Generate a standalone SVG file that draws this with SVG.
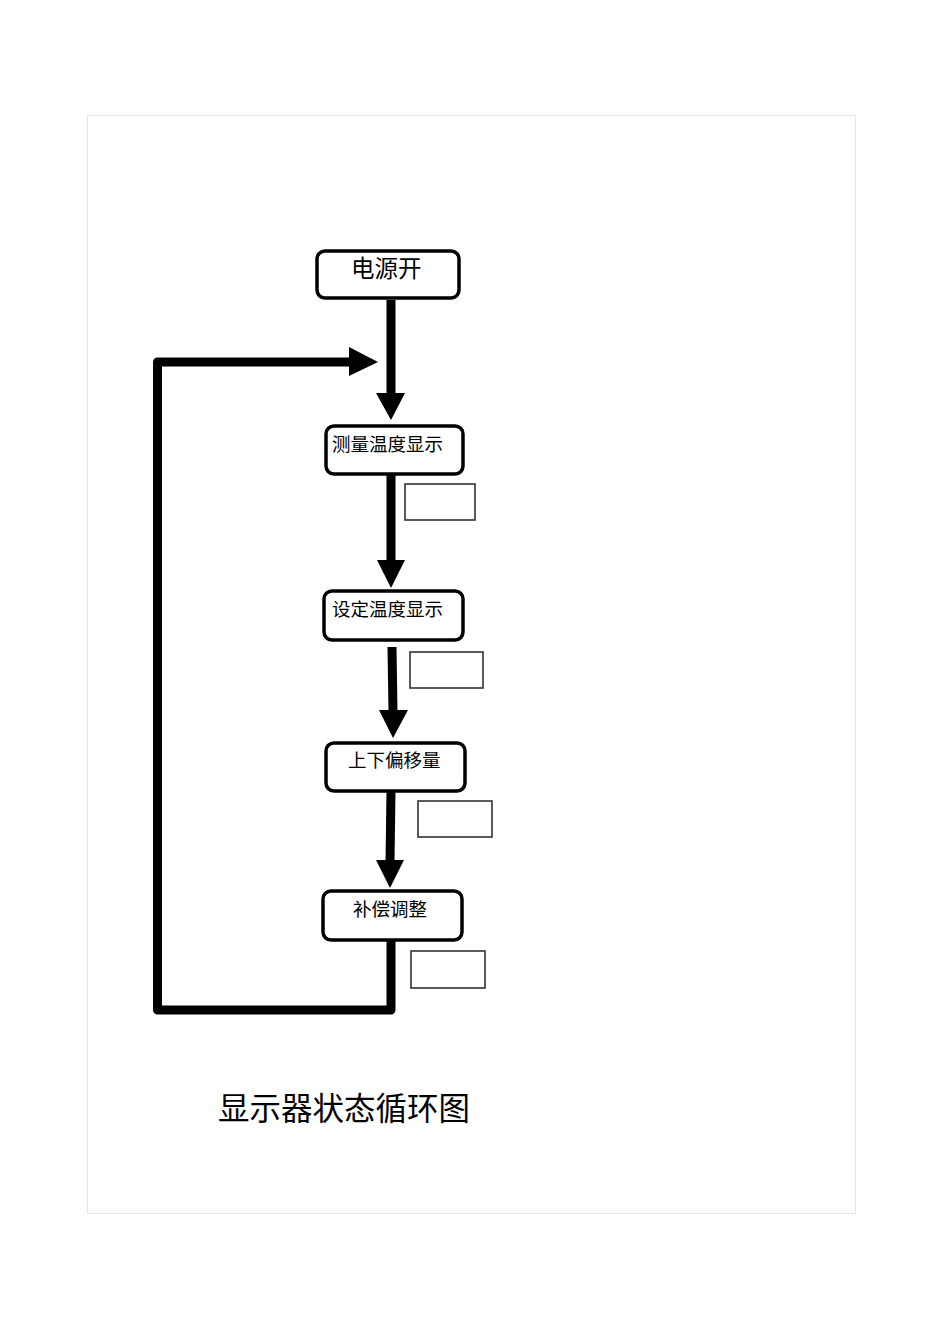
<svg xmlns="http://www.w3.org/2000/svg" width="950" height="1344" viewBox="0 0 950 1344">
<style>
.node{fill:#fff;stroke:#000;stroke-width:3.5}
.lbl{font-family:"Noto Sans CJK SC",sans-serif;font-size:18.5px;fill:#000}
.note{fill:#fff;stroke:#333;stroke-width:1.6}
.conn{fill:none;stroke:#000;stroke-width:9}
.head{fill:#000}
</style>
<rect x="87.5" y="115.5" width="768" height="1098" fill="#fff" stroke="#e6e6e6" stroke-width="1"/>
<g id="connectors">
<line class="conn" x1="391" y1="300" x2="391" y2="394"/>
<polygon class="head" points="376,393 405,393 391,420"/>
<line class="conn" x1="391" y1="474" x2="391" y2="562"/>
<polygon class="head" points="377,560 405,560 391,588"/>
<line class="conn" x1="392" y1="647" x2="393" y2="712"/>
<polygon class="head" points="379,710 408,710 393,738"/>
<line class="conn" x1="391" y1="791" x2="390" y2="862"/>
<polygon class="head" points="376,860 404,860 390,888"/>
<path class="conn" d="M391,940 V1010 H157.5 V362 H351" stroke-linejoin="round"/>
<polygon class="head" points="349,347 378,362 349,376"/>
</g>
<g id="n1"><rect class="node" x="317" y="251" width="142" height="47" rx="8"/><text class="lbl" x="351" y="277" style="font-size:23.5px">电源开</text></g>
<g id="n2"><rect class="node" x="326" y="426" width="137" height="48" rx="8"/><text class="lbl" x="332" y="451">测量温度显示</text></g>
<g id="n3"><rect class="node" x="324" y="591" width="139" height="49" rx="8"/><text class="lbl" x="332" y="616">设定温度显示</text></g>
<g id="n4"><rect class="node" x="326" y="743" width="139" height="48" rx="8"/><text class="lbl" x="348" y="767">上下偏移量</text></g>
<g id="n5"><rect class="node" x="323" y="891" width="139" height="49" rx="8"/><text class="lbl" x="353" y="916">补偿调整</text></g>
<g id="b1"><rect class="note" x="405" y="484" width="70" height="36"/></g>
<g id="b2"><rect class="note" x="410" y="652" width="73" height="36"/></g>
<g id="b3"><rect class="note" x="418" y="801" width="74" height="36"/></g>
<g id="b4"><rect class="note" x="411" y="951" width="74" height="37"/></g>
<g id="title"><text x="218" y="1120" style="font-family:'Noto Sans CJK SC',sans-serif;font-size:31.5px;fill:#000">显示器状态循环图</text></g>
</svg>
